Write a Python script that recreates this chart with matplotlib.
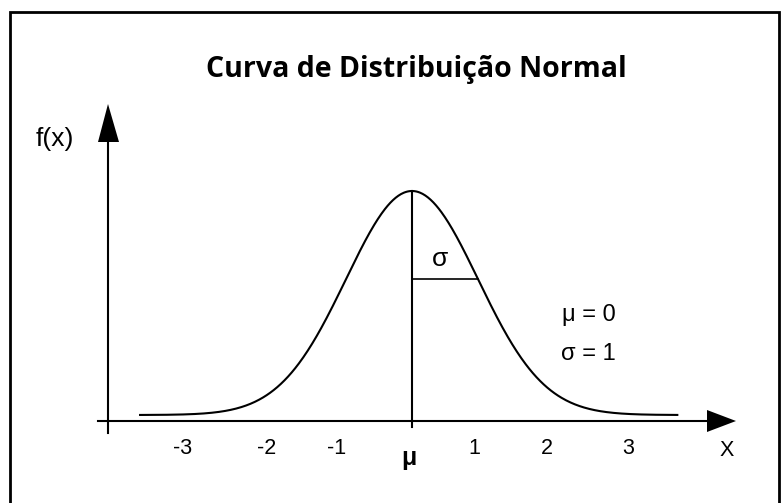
import numpy as np
import matplotlib.pyplot as plt
from matplotlib.patches import Polygon

# distribution parameters
mu = 0.0
sigma = 1.0
x_from, x_to = -4.12, 4.02

tick_labels = ['-3', '-2', '-1', 'μ', '1', '2', '3']
tick_pos = [-3.48, -2.21, -1.14, -0.05, 0.95, 2.05, 3.27]


def pdf(x):
    return np.exp(-0.5 * ((x - mu) / sigma) ** 2) / (sigma * np.sqrt(2 * np.pi))


# canvas layout (pixels)
W, H = 781, 503
X0_PX, SIG_PX = 412, 66          # where mu sits, pixels per sigma
BASE_PX, PEAK_PX = 415, 191      # zero and peak of the density
sx = SIG_PX / sigma
sy = (BASE_PX - PEAK_PX) / pdf(mu)


def P(x, y):
    """pixel position -> data coordinates"""
    return (x - X0_PX) / sx, (BASE_PX - y) / sy


fig = plt.figure(figsize=(W / 100, H / 100), dpi=100)
ax = fig.add_axes([0, 0, 1, 1])
ax.set_xlim(P(0, 0)[0], P(W, 0)[0])
ax.set_ylim(P(0, H)[1], P(0, 0)[1])
ax.axis('off')

lw = 1.5
sans = ['Liberation Sans', 'DejaVu Sans']

# outer frame
fx = [P(10, 0)[0], P(10, 0)[0], P(779, 0)[0], P(779, 0)[0]]
fy = [P(0, 503)[1], P(0, 12)[1], P(0, 12)[1], P(0, 503)[1]]
ax.plot(fx, fy, color='black', lw=2.0, solid_joinstyle='miter')

# axes lines with arrow heads
ax_y = P(0, 421)[1]
yax_x = P(108, 0)[0]
ax.plot([P(98, 0)[0], P(712, 0)[0]], [ax_y, ax_y], color='black', lw=lw)
ax.plot([yax_x, yax_x], [P(0, 433)[1], P(0, 138)[1]], color='black', lw=lw)
ax.add_patch(Polygon([P(707, 410), P(736, 421), P(707, 432)], closed=True,
                     color='black', lw=0))
ax.add_patch(Polygon([P(98, 142), P(108, 104), P(119, 142)], closed=True,
                     color='black', lw=0))

# normal curve
xs = np.linspace(x_from, x_to, 600)
ax.plot(xs, pdf(xs), color='black', lw=lw)

# mean line and sigma marker
ax.plot([mu, mu], [P(0, 427)[1], pdf(mu)], color='black', lw=lw)
ax.plot([mu, mu + sigma], [pdf(mu + sigma)] * 2, color='black', lw=1.2)
ax.text(*P(440, 259), 'σ', fontsize=19, ha='center', va='center', family=sans)

# parameter notes
ax.text(*P(589, 315), 'μ = 0', fontsize=17, ha='center', va='center', family=sans)
ax.text(*P(588, 354), 'σ = 1', fontsize=17, ha='center', va='center', family=sans)

# tick labels
for pos, lab in zip(tick_pos, tick_labels):
    if lab == 'μ':
        ax.text(pos, P(0, 458)[1], lab, fontsize=18, fontweight='bold',
                ha='center', va='center', family=sans)
    else:
        ax.text(pos, P(0, 449)[1], lab, fontsize=15.5, ha='center', va='center',
                family=sans)
ax.text(*P(727, 450), 'X', fontsize=15.5, ha='center', va='center', family=sans)
ax.text(*P(55, 139), 'f(x)', fontsize=19, ha='center', va='center', family=sans)

# title
ax.text(*P(416, 70), 'Curva de Distribuição Normal', fontsize=20.5,
        fontweight='bold', ha='center', va='center', family=['Open Sans', 'DejaVu Sans'])

fig.savefig('out.png', dpi=100)
